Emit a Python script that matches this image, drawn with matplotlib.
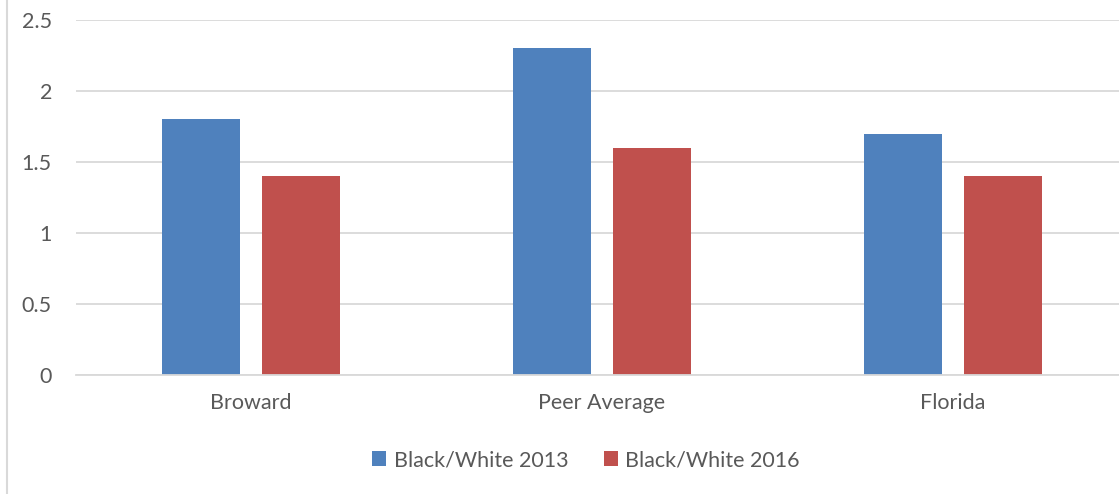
import matplotlib.pyplot as plt
import matplotlib.lines as mlines
import numpy

categories = ['Broward', 'Peer Average', 'Florida']
series_names = ['Black/White 2013', 'Black/White 2016']
values_2013 = [1.8, 2.3, 1.7]
values_2016 = [1.4, 1.6, 1.4]
yticks = [0, 0.5, 1, 1.5, 2, 2.5]
ytick_labels = ['0', '0.5', '1', '1.5', '2', '2.5']

BLUE = '#4F81BD'
RED = '#C0504D'
GRID = '#D9D9D9'
TEXT = '#595959'

W, H = 1119, 494
fig = plt.figure(figsize=(W / 100, H / 100), dpi=100)
plt.rcParams['font.family'] = ['Lato', 'DejaVu Sans']

# plot area in pixels: x 75.5 -> 1128.5, y 20 -> 375 (from top)
left, right, top, bottom = 75.5, 1128.5, 20, 375
ax = fig.add_axes([left / W, 1 - bottom / H, (right - left) / W, (bottom - top) / H])

x = numpy.arange(len(categories))
width = 0.222
ax.bar(x - 0.143, values_2013, width, color=BLUE, label=series_names[0])
ax.bar(x + 0.143, values_2016, width, color=RED, label=series_names[1])

ax.set_xlim(-0.5, len(categories) - 0.5)
ax.set_ylim(0, 2.5)
ax.set_yticks(yticks)
ax.set_yticklabels(ytick_labels)
ax.set_xticks(x)
ax.set_xticklabels(categories)
ax.grid(axis='y', color=GRID, linewidth=1.3)
ax.set_axisbelow(True)
for side in ('top', 'right', 'left'):
    ax.spines[side].set_visible(False)
ax.spines['bottom'].set_color(GRID)
ax.spines['bottom'].set_linewidth(1.3)
ax.tick_params(axis='both', length=0, labelsize=15.5, colors=TEXT)
ax.tick_params(axis='y', pad=17)
ax.tick_params(axis='x', pad=13)

ax.legend(
    loc='center',
    bbox_to_anchor=(586 / W, 1 - 460 / H),
    bbox_transform=fig.transFigure,
    ncol=2,
    frameon=False,
    fontsize=15.5,
    labelcolor=TEXT,
    handlelength=0.65,
    handleheight=0.65,
    handletextpad=0.35,
    columnspacing=1.65,
)

# chart border on the left
fig.add_artist(mlines.Line2D([6.5 / W, 6.5 / W], [0, 1], color=GRID, linewidth=1.5))

fig.savefig('out.png', dpi=100)
